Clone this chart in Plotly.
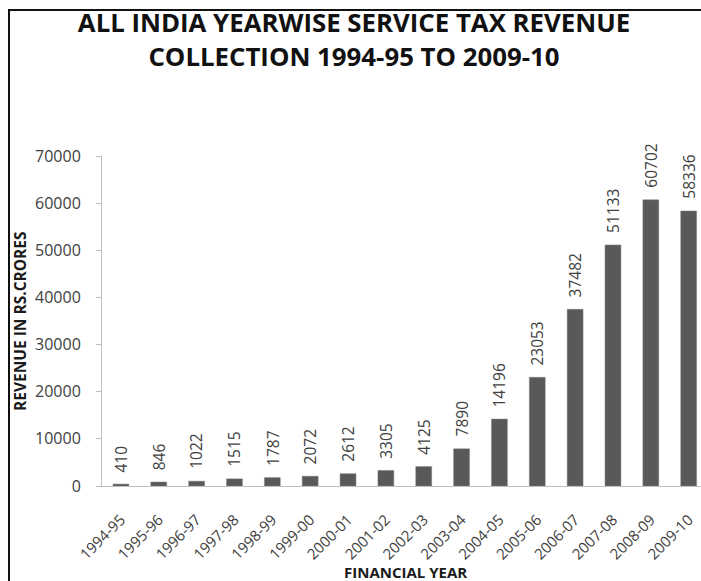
import plotly.graph_objects as go

years = ["1994-95", "1995-96", "1996-97", "1997-98", "1998-99", "1999-00",
         "2000-01", "2001-02", "2002-03", "2003-04", "2004-05", "2005-06",
         "2006-07", "2007-08", "2008-09", "2009-10"]
revenue = [410, 846, 1022, 1515, 1787, 2072, 2612, 3305, 4125, 7890,
           14196, 23053, 37482, 51133, 60702, 58336]
y_ticks = [0, 10000, 20000, 30000, 40000, 50000, 60000, 70000]

W, H = 701, 581
L, R, T, B = 102, 0, 156, 95
pw, ph = W - L - R, H - T - B

def px_x(x):
    return (x - L) / pw

def px_y(y):
    return (H - B - y) / ph

FONT = "Open Sans"
GREY = "#404040"

fig = go.Figure()
fig.add_trace(go.Bar(
    x=years, y=revenue,
    marker=dict(color="#595959", line=dict(color="#7f7f7f", width=0.5)),
    hoverinfo="x+y",
))

annotations = []
for yr, v in zip(years, revenue):
    annotations.append(dict(
        x=yr, y=v, xref="x", yref="y", text=str(v), textangle=-90,
        showarrow=False, yanchor="bottom", xanchor="center", yshift=10,
        font=dict(family=FONT, size=15.5, color=GREY),
    ))

annotations.append(dict(
    x=px_x(405), y=px_y(572), xref="paper", yref="paper",
    text="<b>FINANCIAL YEAR</b>", showarrow=False,
    font=dict(family=FONT, size=15, color="#1a1a1a"),
    xanchor="center", yanchor="middle",
))
annotations.append(dict(
    x=px_x(20), y=0.5, xref="paper", yref="paper",
    text="<b>REVENUE IN RS.CRORES</b>", showarrow=False, textangle=-90,
    font=dict(family=FONT, size=15.5, color="#1a1a1a"),
    xanchor="center", yanchor="middle",
))

fig.update_layout(
    width=W, height=H,
    margin=dict(l=L, r=R, t=T, b=B, autoexpand=False),
    paper_bgcolor="white", plot_bgcolor="white",
    showlegend=False,
    bargap=0.58,
    title=dict(
        text="<b>ALL INDIA YEARWISE SERVICE TAX REVENUE<br>COLLECTION 1994-95 TO 2009-10</b>",
        x=354 / W, xanchor="center", y=1 - 32 / H, yanchor="middle",
        yref="container", xref="container",
        font=dict(family=FONT, size=25.8, color="#111111"),
    ),
    xaxis=dict(
        type="category", range=[-0.5, -0.5 + pw / 37.85],
        tickangle=-45, showline=True, linecolor="#bfbfbf", linewidth=1,
        showgrid=False, ticks="", ticklabelstandoff=18,
        tickfont=dict(family=FONT, size=15, color=GREY),
        fixedrange=True,
    ),
    yaxis=dict(
        range=[0, 70000], tickvals=y_ticks, ticktext=[str(t) for t in y_ticks],
        showline=True, linecolor="#bfbfbf", linewidth=1, showgrid=False,
        ticks="outside", ticklen=5, tickcolor="#bfbfbf", ticklabelstandoff=12,
        tickfont=dict(family=FONT, size=16, color=GREY), zeroline=False,
        fixedrange=True,
    ),
    annotations=annotations,
    shapes=[dict(
        type="rect", xref="paper", yref="paper",
        x0=px_x(9), x1=px_x(720), y0=px_y(600), y1=px_y(10),
        line=dict(color="#111111", width=2), fillcolor="rgba(0,0,0,0)",
        layer="above",
    )],
)

fig.write_html("out.html")
